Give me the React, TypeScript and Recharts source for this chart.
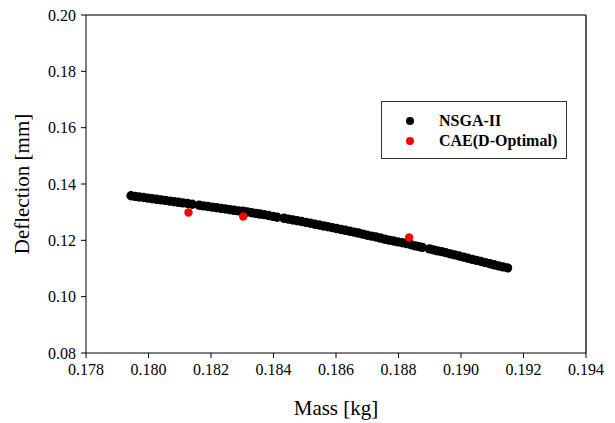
import { ScatterChart, Scatter, XAxis, YAxis, ReferenceLine } from 'recharts';

// NSGA-II Pareto front (mass [kg], deflection [mm])
const nsgaMass = [
  0.17944, 0.17957, 0.1797, 0.17984, 0.17998, 0.18012, 0.18026, 0.1804, 0.18054, 0.18068,
  0.18082, 0.18096, 0.1811, 0.18125, 0.1814,
  0.18162, 0.18176, 0.1819, 0.18204, 0.18218, 0.18232, 0.18246, 0.1826, 0.18274, 0.18288,
  0.18303, 0.18316, 0.1833, 0.18343, 0.18356, 0.1837, 0.18384, 0.18398, 0.18412,
  0.18434, 0.18448, 0.18462, 0.18476, 0.1849, 0.18504, 0.18518, 0.18532, 0.18546, 0.1856,
  0.18574, 0.18588, 0.18602, 0.18616, 0.1863, 0.18644, 0.18658, 0.18672, 0.18686, 0.187,
  0.18714, 0.18728, 0.18742, 0.18756, 0.1877, 0.18784, 0.18798, 0.18812, 0.18826, 0.1884,
  0.18854, 0.18866, 0.18876,
  0.18899, 0.18912, 0.18925, 0.18938, 0.18951, 0.18966, 0.1898, 0.18994, 0.19008, 0.19022,
  0.19036, 0.1905, 0.19064, 0.19078, 0.19092, 0.19106, 0.1912, 0.19134, 0.19149,
];
const nsgaDeflection = [
  0.13582, 0.13562, 0.13541, 0.1352, 0.13499, 0.13478, 0.13456, 0.13435, 0.13414, 0.13393,
  0.13372, 0.1335, 0.13329, 0.13306, 0.13282,
  0.13244, 0.13222, 0.13201, 0.1318, 0.13158, 0.13135, 0.13112, 0.13088, 0.13066, 0.13047,
  0.13031, 0.13006, 0.1298, 0.12956, 0.12933, 0.12911, 0.1288, 0.1285, 0.12818,
  0.12782, 0.12752, 0.12724, 0.12696, 0.12667, 0.12634, 0.12605, 0.12573, 0.12543, 0.12511,
  0.12481, 0.1245, 0.12418, 0.12387, 0.12356, 0.12322, 0.12293, 0.12258, 0.12221, 0.12182,
  0.1215, 0.12119, 0.12081, 0.12041, 0.12008, 0.11977, 0.11947, 0.11915, 0.11882, 0.11844,
  0.11804, 0.11776, 0.11751,
  0.11698, 0.11661, 0.11625, 0.11598, 0.11562, 0.1152, 0.11483, 0.11443, 0.11404, 0.11363,
  0.11325, 0.11287, 0.11248, 0.11208, 0.1117, 0.11131, 0.11092, 0.11058, 0.11022,
];

// CAE (D-Optimal) points
const caeMass = [0.18128, 0.18303, 0.18834];
const caeDeflection = [0.1299, 0.12846, 0.121];

const xTicks = [0.178, 0.18, 0.182, 0.184, 0.186, 0.188, 0.19, 0.192, 0.194];
const yTicks = [0.08, 0.1, 0.12, 0.14, 0.16, 0.18, 0.2];

const nsgaData = nsgaMass.map((m, i) => ({ mass: m, deflection: nsgaDeflection[i] }));
const caeData = caeMass.map((m, i) => ({ mass: m, deflection: caeDeflection[i] }));

const FONT = 'Liberation Serif';

const legendItems = [
  { label: 'NSGA-II', color: '#000000' },
  { label: 'CAE(D-Optimal)', color: '#ff0000' },
];

const XTick = ({ x, y, payload }: any) => (
  <text x={x} y={y + 15} textAnchor="middle" fontFamily={FONT} fontSize={16} fill="#000">
    {Number(payload.value).toFixed(3)}
  </text>
);

const YTick = ({ x, y, payload }: any) => (
  <text x={x - 3} y={y + 5.5} textAnchor="end" fontFamily={FONT} fontSize={16} fill="#000">
    {Number(payload.value).toFixed(2)}
  </text>
);

function LegendBox() {
  return (
    <div
      style={{
        position: 'absolute',
        left: 381,
        top: 101,
        width: 186,
        height: 58,
        border: '1.5px solid #333',
        boxSizing: 'border-box',
        background: '#fff',
        fontFamily: FONT,
        fontWeight: 'bold',
        fontSize: 16,
        paddingTop: 9,
      }}
    >
      {legendItems.map((it) => (
        <div key={it.label} style={{ display: 'flex', alignItems: 'center', height: 20 }}>
          <svg width={57} height={20}>
            <circle cx={28} cy={10} r={4} fill={it.color} />
          </svg>
          <span>{it.label}</span>
        </div>
      ))}
    </div>
  );
}

export default function App() {
  return (
    <div style={{ position: 'absolute', left: 0, top: 0, width: 615, height: 423, background: '#fff' }}>
      <ScatterChart
        width={615}
        height={423}
        margin={{ top: 15, right: 29, bottom: 20, left: 16 }}
      >
        <XAxis
          type="number"
          dataKey="mass"
          domain={[0.178, 0.194]}
          ticks={xTicks}
          height={50}
          stroke="#000"
          tickSize={5}
          tick={<XTick />}
          label={({ viewBox }: any) => (
            <text
              x={viewBox.x + viewBox.width / 2}
              y={415}
              textAnchor="middle"
              fontFamily={FONT}
              fontSize={21}
              fill="#000"
            >
              Mass [kg]
            </text>
          )}
        />
        <YAxis
          type="number"
          dataKey="deflection"
          domain={[0.08, 0.2]}
          ticks={yTicks}
          width={70}
          stroke="#000"
          tickSize={5}
          tick={<YTick />}
          label={({ viewBox }: any) => {
            const cy = viewBox.y + viewBox.height / 2;
            return (
              <text
                x={22}
                y={cy}
                transform={`rotate(-90 22 ${cy})`}
                textAnchor="middle"
                dominantBaseline="central"
                fontFamily={FONT}
                fontSize={21}
                fill="#000"
              >
                Deflection [mm]
              </text>
            );
          }}
        />
        <ReferenceLine y={0.2} stroke="#777" strokeWidth={2} />
        <ReferenceLine x={0.194} stroke="#222" strokeWidth={1.5} />
        <Scatter
          name="NSGA-II"
          data={nsgaData}
          isAnimationActive={false}
          shape={(p: any) => <circle cx={p.cx} cy={p.cy} r={4.7} fill="#000" />}
        />
        <Scatter
          name="CAE(D-Optimal)"
          data={caeData}
          isAnimationActive={false}
          shape={(p: any) => <circle cx={p.cx} cy={p.cy} r={4.2} fill="#ff0000" />}
        />
      </ScatterChart>
      <LegendBox />
    </div>
  );
}
